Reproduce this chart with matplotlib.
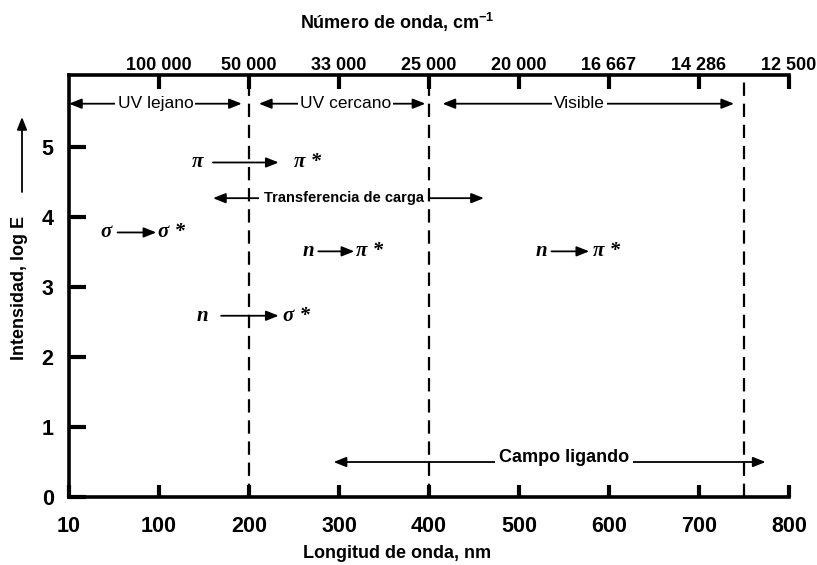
import matplotlib
matplotlib.use('Agg')
import matplotlib.pyplot as plt

plt.rcParams['font.family'] = ['Liberation Sans', 'DejaVu Sans']
plt.rcParams['font.weight'] = 'bold'
plt.rcParams['mathtext.fontset'] = 'custom'
plt.rcParams['mathtext.rm'] = 'Liberation Sans:bold'
plt.rcParams['mathtext.default'] = 'rm'

# axis ticks
wl_pos = [0, 100, 200, 300, 400, 500, 600, 700, 800]
wl_labels = ['10', '100', '200', '300', '400', '500', '600', '700', '800']
wn_pos = [100, 200, 300, 400, 500, 600, 700, 800]
wn_labels = ['100 000', '50 000', '33 000', '25 000', '20 000', '16 667', '14 286', '12 500']
y_ticks = [0, 1, 2, 3, 4, 5]

# region boundaries (dashed) and region arrows
boundaries = [200, 400, 750]
regions = ['UV lejano', 'UV cercano', 'Visible']
region_x = [96, 307, 567]
region_lo = [0, 211, 415]
region_hi = [192, 396, 739]
region_y = 5.62

# transitions: left label, right label, label right edge, arrow start, arrow end, label left edge, y
transitions = [
    ('σ', 'σ *', 47, 54, 97, 99, 3.78),
    ('π', 'π *', 149, 160, 233, 250, 4.78),
    ('n', 'σ *', 155, 169, 233, 238, 2.59),
    ('n', 'π *', 272, 277, 317, 319, 3.51),
    ('n', 'π *', 531, 536, 578, 582, 3.51),
]

# broad bands: label, text x, text y, arrow from, arrow to, arrow y, font size
bands = [
    ('Transferencia de carga', 305, 4.27, 160, 461, 4.27, 10.5),
    ('Campo ligando', 550, 0.56, 294, 774, 0.50, 13),
]

fig = plt.figure(figsize=(8.17, 5.65), dpi=100)
ax = fig.add_axes([69 / 817, 1 - 497 / 565, (789 - 69) / 817, (497 - 75) / 565])
ax.set_xlim(0, 800)
ax.set_ylim(0, 6.03)

for s in ['left', 'bottom', 'top']:
    ax.spines[s].set_linewidth(2.6)
ax.spines['right'].set_visible(False)

ax.set_xticks(wl_pos, wl_labels)
ax.set_yticks(y_ticks)
ax.tick_params(axis='x', direction='in', length=9, width=3, pad=14, labelsize=15.5)
ax.tick_params(axis='y', direction='in', length=12, width=3, pad=11, labelsize=15.5)

ax2 = ax.twiny()
ax2.set_xlim(0, 800)
for s in ax2.spines.values():
    s.set_visible(False)
ax2.set_xticks(wn_pos, wn_labels)
ax2.tick_params(axis='x', direction='in', length=10, width=3, pad=1, labelsize=13)

for b in boundaries:
    ax.axvline(b, color='black', lw=1.6, ls=(0, (6, 3.5)), zorder=4)

arrow = dict(arrowstyle='-|>,head_length=0.5,head_width=0.2', color='black', lw=1.3,
             mutation_scale=15, shrinkA=0, shrinkB=0)
darrow = dict(arrowstyle='<|-|>,head_length=0.5,head_width=0.2', color='black', lw=1.3,
              mutation_scale=15, shrinkA=0, shrinkB=0)

for name, x, lo, hi in zip(regions, region_x, region_lo, region_hi):
    ax.annotate('', xy=(hi, region_y), xytext=(lo, region_y), arrowprops=darrow, zorder=2)
    ax.text(x, region_y, name, ha='center', va='center', fontsize=12.5, fontweight='normal',
            bbox=dict(facecolor='white', edgecolor='none', pad=1.5), zorder=3)

greek = dict(family='Liberation Serif', style='italic', weight='bold', fontsize=15)
for left, right, lr, a0, a1, rl, y in transitions:
    ax.annotate('', xy=(a1, y), xytext=(a0, y), arrowprops=arrow, zorder=2)
    ax.text(lr, y, left, ha='right', va='center', **greek)
    ax.text(rl, y, right, ha='left', va='center', **greek)

for name, tx, ty, a0, a1, ay, fs in bands:
    ax.annotate('', xy=(a1, ay), xytext=(a0, ay), arrowprops=darrow, zorder=2)
    ax.text(tx, ty, name, ha='center', va='center', fontsize=fs,
            bbox=dict(facecolor='white', edgecolor='none', pad=3), zorder=3)

fig.text(397 / 817, 1 - 22 / 565, 'Número de onda, cm$^{-1}$', ha='center', va='center', fontsize=13)
fig.text(397 / 817, 1 - 554 / 565, 'Longitud de onda, nm', ha='center', va='center', fontsize=13)
fig.text(20 / 817, 1 - 288 / 565, 'Intensidad, log E', rotation=90, ha='center', va='center', fontsize=13)
ax.annotate('', xy=(22 / 817, 1 - 117 / 565), xytext=(22 / 817, 1 - 192 / 565),
            xycoords='figure fraction', arrowprops=arrow)

fig.savefig('out.png', dpi=100)
